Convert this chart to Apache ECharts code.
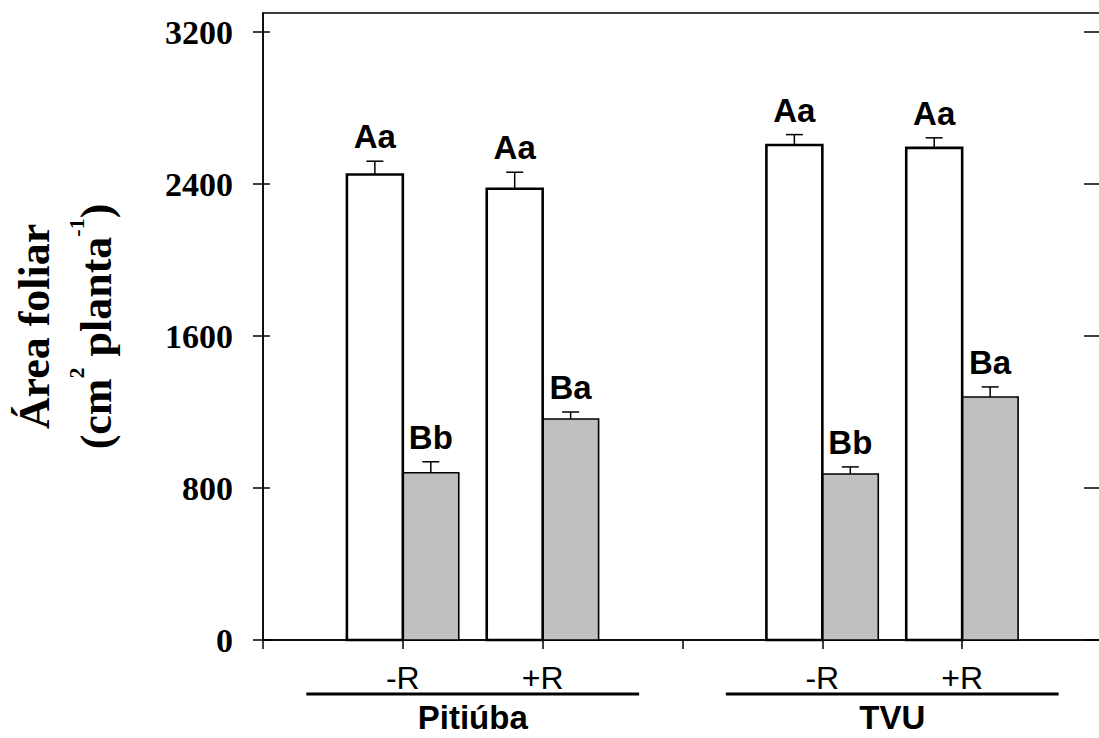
<!DOCTYPE html>
<html>
<head>
<meta charset="utf-8">
<script src="https://cdn.jsdelivr.net/npm/echarts@6/dist/echarts.min.js"></script>
<style>
html,body{margin:0;padding:0;background:#fff;}
#chart{width:1099px;height:738px;}
</style>
</head>
<body>
<div id="chart"></div>
<script>
// ---- data ----
const groups = ['Pitiúba', 'TVU'];
const treatments = ['-R', '+R'];
// white bars (first bar of each pair)
const whiteValues = [2450, 2375, 2605, 2590];
const whiteErrors = [70, 87, 55, 53];
const whiteLetters = ['Aa', 'Aa', 'Aa', 'Aa'];
// grey bars (second bar of each pair)
const greyValues = [880, 1163, 874, 1279];
const greyErrors = [58, 37, 37, 53];
const greyLetters = ['Bb', 'Ba', 'Bb', 'Ba'];
const yTicks = [0, 800, 1600, 2400, 3200];

// ---- build structure ----
// each group occupies 3 axis units: gap, treatment 1, treatment 2
const slots = [];
const slotLabels = {};
groups.forEach((g, gi) => {
  treatments.forEach((t, ti) => {
    const x = gi * 3 + ti + 1;
    slots.push(x);
    slotLabels[x] = t;
  });
});
const groupCenters = groups.map((g, gi) => gi * 3 + 1.5);

const BAR_W = 0.4;
const FONT_SANS = 'Liberation Sans, Arial, sans-serif';
const FONT_SERIF = 'Liberation Serif, Times New Roman, serif';

function barRenderer(side, fill, lw, letters) {
  return function (params, api) {
    const x = api.value(0), v = api.value(1), e = api.value(2);
    const xa = side < 0 ? x - BAR_W : x;
    const xb = side < 0 ? x : x + BAR_W;
    const p0 = api.coord([xa, v]);
    const p1 = api.coord([xb, 0]);
    const cx = (p0[0] + p1[0]) / 2;
    const pe = api.coord([x, v + e]);
    return {
      type: 'group',
      children: [
        {type: 'rect', shape: {x: p0[0], y: p0[1], width: p1[0] - p0[0], height: p1[1] - p0[1]},
         style: {fill: fill, stroke: '#000', lineWidth: lw}},
        {type: 'line', shape: {x1: cx, y1: p0[1], x2: cx, y2: pe[1]}, style: {stroke: '#000', lineWidth: 1.5}},
        {type: 'line', shape: {x1: cx - 8.5, y1: pe[1], x2: cx + 8.5, y2: pe[1]}, style: {stroke: '#000', lineWidth: 1.5}},
        {type: 'text', x: cx, y: pe[1] - 8,
         style: {text: letters[params.dataIndex], fill: '#000', fontSize: 33, fontWeight: 'bold',
                 fontFamily: FONT_SANS, align: 'center', verticalAlign: 'bottom'}}
      ]
    };
  };
}

function groupRenderer(params, api) {
  const c = api.value(0);
  const pa = api.coord([c - 1.19, 0]);
  const pb = api.coord([c + 1.19, 0]);
  const pc = api.coord([c, 0]);
  const y = pa[1] + 54;
  return {
    type: 'group',
    children: [
      {type: 'line', shape: {x1: pa[0], y1: y, x2: pb[0], y2: y}, style: {stroke: '#000', lineWidth: 3}},
      {type: 'text', x: pc[0], y: y + 7,
       style: {text: groups[params.dataIndex], fill: '#000', fontSize: 33, fontWeight: 'bold',
               fontFamily: FONT_SANS, align: 'center', verticalAlign: 'top'}}
    ]
  };
}

const tickStyle = {color: '#000', width: 1.5};

const option = {
  animation: false,
  backgroundColor: '#fff',
  grid: {left: 263, top: 13, right: -3, bottom: 98, show: true, borderColor: '#000', borderWidth: 1.5,
         backgroundColor: 'transparent', outerBoundsMode: 'none', containLabel: false},
  xAxis: {
    type: 'value', min: 0, max: 6, interval: 1,
    axisLine: {show: true, lineStyle: tickStyle},
    axisTick: {show: true, length: 9, lineStyle: tickStyle},
    axisLabel: {
      customValues: slots,
      formatter: v => slotLabels[v] || '',
      margin: 22, fontSize: 32, fontFamily: FONT_SANS, color: '#000'
    },
    splitLine: {show: false}
  },
  yAxis: [
    {
      type: 'value', min: 0, max: 3300, position: 'left',
      axisLine: {show: true, lineStyle: tickStyle},
      axisTick: {show: true, length: 10, customValues: yTicks, lineStyle: tickStyle},
      axisLabel: {customValues: yTicks, margin: 30, fontSize: 34, fontWeight: 'bold',
                  fontFamily: FONT_SERIF, color: '#000', formatter: v => String(v)},
      splitLine: {show: false},
      name: '{t|Área foliar}\n{t|(cm}{sup|2}{t| planta}{sup|-1}{t|)}',
      nameLocation: 'middle', nameRotate: 90, nameGap: 136, nameMoveOverlap: false,
      nameTextStyle: {
        color: '#000', fontFamily: FONT_SERIF, fontWeight: 'bold', fontSize: 44, lineHeight: 62,
        rich: {
          t: {fontFamily: FONT_SERIF, fontWeight: 'bold', fontSize: 44, lineHeight: 62, color: '#000'},
          sup: {fontFamily: FONT_SERIF, fontWeight: 'bold', fontSize: 22, lineHeight: 62, color: '#000', verticalAlign: 'top'}
        }
      }
    },
    {
      type: 'value', min: 0, max: 3300, position: 'left',
      axisLine: {show: false},
      axisTick: {show: true, inside: true, length: 7, customValues: yTicks, lineStyle: tickStyle},
      axisLabel: {show: false}, splitLine: {show: false}
    },
    {
      type: 'value', min: 0, max: 3300, position: 'right',
      axisLine: {show: false},
      axisTick: {show: true, inside: true, length: 18, customValues: yTicks, lineStyle: tickStyle},
      axisLabel: {show: false}, splitLine: {show: false}
    }
  ],
  series: [
    {
      type: 'custom', name: 'grey', clip: false, z: 2,
      renderItem: barRenderer(1, '#c0c0c0', 1.6, greyLetters),
      data: slots.map((x, i) => [x, greyValues[i], greyErrors[i]])
    },
    {
      type: 'custom', name: 'white', clip: false, z: 3,
      renderItem: barRenderer(-1, '#ffffff', 2.6, whiteLetters),
      data: slots.map((x, i) => [x, whiteValues[i], whiteErrors[i]])
    },
    {
      type: 'custom', name: 'groups', clip: false, z: 4,
      renderItem: groupRenderer,
      data: groupCenters.map(c => [c])
    }
  ]
};

const chart = echarts.init(document.getElementById('chart'), null, {renderer: 'svg'});
chart.setOption(option);
</script>
</body>
</html>
